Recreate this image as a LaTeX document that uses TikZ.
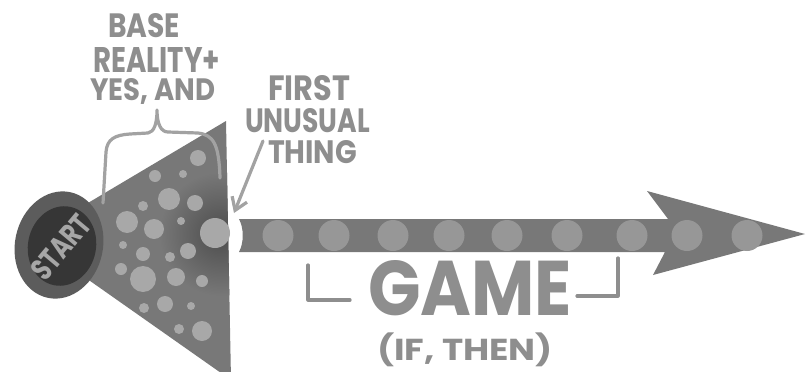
\documentclass[tikz,border=0pt]{standalone}
\usepackage{fontspec}
\setmainfont{Poppins}
\usepackage{graphicx}
\usetikzlibrary{arrows.meta}
\definecolor{bodygray}{HTML}{787878}
\definecolor{tridot}{HTML}{A8A8A8}
\definecolor{shaftdot}{HTML}{979797}
\definecolor{outerell}{HTML}{5C5C5C}
\definecolor{innerell}{HTML}{363636}
\definecolor{txtgray}{HTML}{8E8E8E}
\definecolor{startgray}{HTML}{A6A6A6}
\definecolor{penline}{HTML}{A2A2A2}
\newcommand\fitT[3]{\resizebox{#1pt}{#2pt}{\bfseries #3}}
\newcommand\fitTT[3]{\resizebox*{#1pt}{#2pt}{\bfseries #3}}
\tikzset{
  lbl/.style={text=txtgray, inner sep=0pt, outer sep=0pt},
  pen/.style={draw=penline, line width=3.2pt, line cap=round, line join=round},
  tdot/.style={fill=tridot},
  sdot/.style={fill=shaftdot},
}
\begin{document}
\begin{tikzpicture}[x=1pt,y=-1pt]
\useasboundingbox (0,0) rectangle (806,372);
\fill[white] (0,0) rectangle (806,372);
\clip (0,0) rectangle (806,372);

% cone (triangle)
\path[fill=bodygray] (29,238) -- (226,121) -- (231,380) -- cycle;
\begin{scope}
  \clip (29,238) -- (226,121) -- (231,380) -- cycle;
  \shade[inner color=black!70, outer color=bodygray] (221,234) circle[radius=62];
\end{scope}

% dots in the cone
\foreach \x/\y/\r in {198/158/8, 155/176/6, 183/174/4, 169/199/11, 195/203/8,
  143/206/5, 127/222/11, 154/229/10, 181/221/4, 123/245/4, 143/254/7,
  170/257/5, 188/251/8, 121/269/6, 143/279/13, 176/277/9, 202/281/6,
  144/308/5, 165/304/8, 191/306/4, 179/329/5, 202/331/10}
  \fill[tdot] (\x,\y) circle[radius=\r];

% start disc
\fill[outerell, rotate around={-12:(59,245)}] (59,245) ellipse [x radius=44, y radius=54];
\fill[innerell, rotate around={-12:(62,246)}] (62,246) ellipse [x radius=34, y radius=40];
\node[text=startgray, rotate=50, inner sep=0pt] (start) at (61,247) {\fitT{74}{22}{START}};

% first unusual thing
\node[circle, fill=tridot, minimum size=30pt, inner sep=0pt] (firstdot) at (215,233) {};

% game arrow
\path[fill=bodygray] (239,219) -- (668,219) -- (647,191) -- (805,234) -- (653,275)
  -- (665,252) -- (239,252) .. controls (244,243) and (244,228) .. (239,219) -- cycle;
\foreach \x in {278,334,393,449,507,567,632,687,747}
  \fill[sdot] (\x,235.5) circle[radius=15.5];

% labels
\node[lbl, anchor=base west] (base)    at (108,37)  {\fitT{72}{24}{BASE}};
\node[lbl, anchor=base west] (reality) at (93,72)   {\fitT{127}{25}{REALITY+}};
\node[lbl, anchor=base west] (yesand)  at (90,100)  {\fitT{125}{22}{YES, AND}};
\node[lbl, anchor=base west] (first)   at (268,100) {\fitT{82}{25}{FIRST}};
\node[lbl, anchor=base west] (unusual) at (245,132) {\fitT{125}{24}{UNUSUAL}};
\node[lbl, anchor=base west] (thing)   at (268,163) {\fitT{89}{23}{THING}};
\node[lbl, anchor=base west] (game)    at (368,315) {\fitT{204}{55}{GAME}};
\node[lbl, anchor=south west] (ifthen) at (377,367) {\fitTT{176}{34}{(IF, THEN)}};

% brace over the cone
\draw[pen] (103,203) -- (106,152) .. controls (107,139) and (115,135) .. (130,134)
  -- (148,133) .. controls (154,132) and (157,124) .. (157,110)
  .. controls (157,124) and (161,132) .. (168,132)
  -- (198,133) .. controls (213,135) and (219,143) .. (220,178);

% pointer to the first unusual thing
\coordinate (ptrA) at (263,141);
\coordinate (ptrB) at (234,213);
\draw[pen, -{Straight Barb[length=12pt, width=16pt]}] (ptrA) -- (ptrB);

% game brackets
\coordinate (bl1) at (308,265);
\coordinate (bl2) at (308,300);
\coordinate (bl3) at (350,300);
\coordinate (br1) at (577,296);
\coordinate (br2) at (618,296);
\coordinate (br3) at (618,258);
\draw[pen, draw=txtgray] (bl1) -- (bl2) -- (bl3);
\draw[pen, draw=txtgray] (br1) -- (br2) -- (br3);
\end{tikzpicture}
\end{document}
